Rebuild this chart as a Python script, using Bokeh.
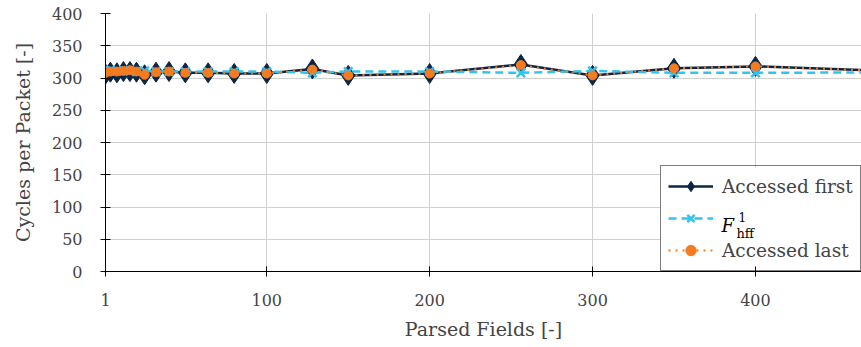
from bokeh.plotting import figure
from bokeh.models import Range1d, FixedTicker, Legend, LegendItem
from bokeh.core.properties import value
from bokeh.embed import file_html
from bokeh.resources import INLINE

# Parsed fields per packet (x) and measured cycles per packet for each variant
parsed_fields = [1, 4, 8, 12, 16, 20, 25, 32, 40, 50, 64, 80, 100, 128, 150, 200, 256, 300, 350, 400, 512]
accessed_first = [306, 309, 308, 310, 310, 309, 305, 309, 310, 308, 308, 307, 307, 314, 304, 307, 321, 304, 315, 318, 308]
f_hff = [311, 312, 311, 311, 311, 310, 311, 310, 310, 310, 310, 310, 310, 308, 310, 310, 308, 311, 308, 308, 309]
accessed_last = [308, 310, 310, 311, 312, 310, 305, 309, 310, 308, 308, 307, 307, 313, 304, 307, 320, 304, 315, 318, 308]

x_ticks = [1, 100, 200, 300, 400]
y_ticks = [0, 50, 100, 150, 200, 250, 300, 350, 400]

NAVY = "#0b2545"
SKY = "#33c3f0"
ORANGE = "#f47b20"
FONT = "DejaVu Serif"

W, H = 861, 347
LEFT, TOP, BOTTOM = 105, 13, 76
FRAME_W, FRAME_H = W - LEFT, H - TOP - BOTTOM
X0, X1 = 1, 465.1
Y0, Y1 = 0, 400

p = figure(
    width=W, height=H,
    output_backend="svg", toolbar_location=None,
    x_range=Range1d(X0, X1), y_range=Range1d(Y0, Y1),
    min_border_left=LEFT, min_border_right=0, min_border_top=TOP, min_border_bottom=BOTTOM,
)
p.outline_line_color = None

# axes
for ax in (p.xaxis[0], p.yaxis[0]):
    ax.major_tick_in = 5
    ax.major_tick_out = 5
    ax.major_label_text_font = FONT
    ax.major_label_text_font_size = "16px"
    ax.axis_label_text_font = FONT
    ax.axis_label_text_font_size = "19px"
    ax.axis_label_text_font_style = "normal"
p.xaxis.ticker = FixedTicker(ticks=x_ticks)
p.yaxis.ticker = FixedTicker(ticks=y_ticks)
p.xaxis.axis_label = "Parsed Fields [-]"
p.yaxis.axis_label = "Cycles per Packet [-]"
p.xaxis.major_label_standoff = 17
p.yaxis.major_label_standoff = 18
p.xaxis.axis_label_standoff = 9
p.yaxis.axis_label_standoff = 15

p.xgrid.ticker = FixedTicker(ticks=x_ticks)
p.ygrid.ticker = FixedTicker(ticks=y_ticks)
p.grid.grid_line_color = "#d0d0d0"


def sx(px):
    """frame pixel offset from the left edge -> x data value"""
    return X0 + px * (X1 - X0) / FRAME_W


def sy(py):
    """frame pixel offset from the bottom edge -> y data value"""
    return Y0 + py * (Y1 - Y0) / FRAME_H


# legend box geometry in frame pixels (left, bottom, width, height)
LEG_L, LEG_B, LEG_W, LEG_H = 555, 0, 206, 104

# opaque backing for the legend, so grid lines stay hidden behind it
p.quad(left=[sx(LEG_L)], right=[sx(LEG_L + LEG_W)], bottom=[sy(LEG_B)], top=[sy(LEG_B + LEG_H)],
       fill_color="white", line_color=None)

# series
l1 = p.line(parsed_fields, accessed_first, line_color=NAVY, line_width=2.5)
m1 = p.scatter(parsed_fields, accessed_first, marker="diamond", size=20,
               fill_color=NAVY, line_color=NAVY)
l2 = p.line(parsed_fields, f_hff, line_color=SKY, line_width=2.5, line_dash="8 5")
m2 = p.scatter(parsed_fields, f_hff, marker="x", size=12, line_color=SKY, line_width=2.5)
l3 = p.line(parsed_fields, accessed_last, line_color=ORANGE, line_width=2, line_dash="2 5")
m3 = p.scatter(parsed_fields, accessed_last, marker="circle", size=9,
               fill_color=ORANGE, line_color=ORANGE)

# F_hff^1 legend label, typeset from pieces
for txt, px, py, size, style in [
    ("F", 616, 46, "18px", "italic"),
    ("1", 633, 55, "12px", "normal"),
    ("hff", 631, 38, "13px", "normal"),
]:
    p.text(x=[sx(px)], y=[sy(py)], text=[txt], text_font=value(FONT),
           text_font_size=size, text_font_style=style,
           text_baseline="alphabetic", text_align="left", text_color="black")

legend = Legend(
    items=[
        LegendItem(label="Accessed first", renderers=[l1, m1]),
        LegendItem(label=" ", renderers=[l2, m2]),
        LegendItem(label="Accessed last", renderers=[l3, m3]),
    ],
    location=(LEG_L, LEG_B),
    margin=0, padding=7, spacing=6,
    glyph_width=45, glyph_height=26, label_height=26, label_standoff=9,
    label_text_font=FONT, label_text_font_size="18.5px",
    border_line_color="black", border_line_width=1,
    background_fill_alpha=0.0,
)
p.add_layout(legend)

open("out.html", "w").write(file_html(p, INLINE))
